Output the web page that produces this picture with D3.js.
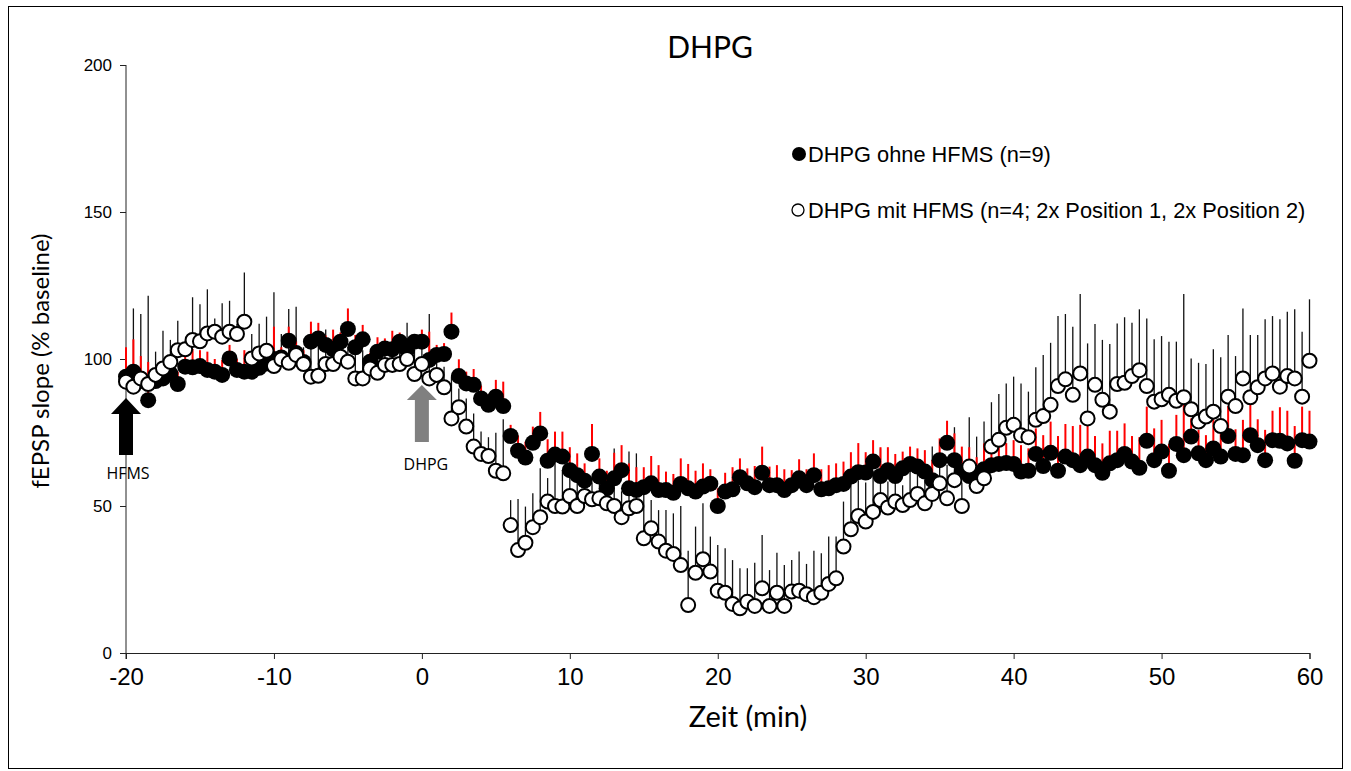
<!DOCTYPE html>
<html>
<head>
<meta charset="utf-8">
<script src="https://cdn.jsdelivr.net/npm/d3@7"></script>
<style>
  body { margin: 0; background: #fff; }
  svg { display: block; }
</style>
</head>
<body>
<svg width="1351" height="771"></svg>
<script>
// sampling grid: one point every 0.5 min
const times = d3.range(-20, 60.001, 0.5);

// DHPG ohne HFMS (filled)
const meanOhne = [
  94, 95.7, 92.5, 86, 92.5, 93.4, 95, 91.5, 97.4, 97.2, 97.6, 96.3, 95.7, 94.6, 100.2, 96.3, 95.7, 95.7, 97, 98.5,
  100, 100.5, 106.2, 102, 99, 105.9, 107, 104.8, 103.3, 105.9, 110.2, 104, 106.7, 99.1, 102.5, 103.6, 103.3, 105.9, 103, 105.9,
  105.9, 99.7, 101.4, 101.7, 109.3, 94.2, 91.7, 91.2, 86.6, 84.4, 87.2, 84, 73.8, 68.8, 66.5, 71.5, 74.7, 65.4, 67.5, 66.8,
  62.2, 60.5, 58.6, 67.7, 60, 56, 59.4, 62.2, 56, 55.4, 56.4, 57.7, 55.4, 55.4, 54.5, 57.5, 56, 54.9, 56.6, 57.6,
  50, 54.9, 55.7, 59.8, 57.7, 56.4, 61.3, 57.1, 57.1, 55.4, 57.1, 59.4, 57.1, 60.5, 55.7, 56, 57.1, 57.5, 60, 61.5,
  61.4, 65.1, 60.2, 62.2, 60.2, 62.8, 64.3, 63.4, 61.7, 58.8, 65.6, 71.5, 65.6, 61.7, 60.2, 60.5, 62.5, 63.9, 64.3, 64.6,
  64.3, 61.7, 62, 67.7, 63.6, 68.1, 62, 66.8, 65.6, 63.9, 66.8, 63.9, 61.3, 64.5, 65.6, 67.7, 65.1, 63, 72.2, 65.6,
  68.5, 62, 71.1, 67.3, 73.6, 67.9, 65.6, 69.6, 66.8, 73.8, 67.7, 67.3, 74.1, 70.7, 65.6, 72.4, 72.2, 71.3, 65.4, 72.4, 71.9
];
const semOhne = [
  10, 11, 8.5, 13, 3.5, 3.6, 3, 4.2, 3.6, 6.2, 5.4, 6.2, 4.3, 5.1, 4.6, 3.7, 7.3, 3.3, 3, 3.5,
  11, 3.5, 4.8, 4, 4, 6.8, 5.3, 3.2, 6.7, 3.1, 7, 4.2, 4.9, 3, 4.9, 3.4, 6.3, 3.1, 3.5, 2.6,
  4.1, 9.6, 3.4, 3.7, 6.5, 5.7, 4, 5.4, 4.4, 3.6, 5.7, 8.3, 3.8, 5.2, 5.4, 5.5, 7.3, 7.3, 7.8, 8.5,
  7.8, 7.4, 5.9, 10.2, 6.2, 6, 8.7, 8.5, 8.5, 7.8, 6.8, 9.3, 8.5, 6.3, 6.4, 8.7, 8.3, 7.1, 7.9, 4.9,
  6, 6.4, 7.5, 6.4, 5.1, 7.2, 8.9, 6.3, 6.8, 7.1, 5.1, 6.5, 5.4, 7.4, 6.8, 7.9, 7.4, 7.6, 8.3, 9.9,
  6.9, 7.3, 9.8, 7.8, 7.5, 5.7, 5.9, 6.2, 7.3, 6.8, 7.4, 7.5, 9.1, 8.5, 9.8, 6.1, 8.8, 7.4, 6.2, 6.8,
  8.1, 9, 7.6, 8.7, 10.5, 10.6, 11.8, 11.1, 11.6, 13.7, 10.4, 9.9, 10, 11.1, 10, 10.4, 8.7, 10.4, 11.6, 10.8,
  10.8, 9.1, 9.9, 17.1, 6.2, 8, 8.5, 9.9, 7.7, 10.2, 8.4, 12, 10.3, 8.8, 10.3, 10, 11.4, 11.1, 11.8, 11.4, 10.5
];

// DHPG mit HFMS (open)
const meanMit = [
  92.3, 90.6, 93.4, 91.5, 94.6, 96.8, 99, 103, 103.3, 106.5, 106, 108.7, 109.3, 107.6, 109.3, 108.5, 112.7, 100.2, 101.9, 102.8,
  97.6, 99.9, 98.7, 101.4, 98.3, 94, 94.3, 98.3, 98.3, 100.8, 99.1, 93.4, 93.4, 96.8, 95.3, 98, 98, 98.3, 100, 94.9,
  98.3, 93.4, 94.6, 90.4, 79.8, 83.6, 77, 70.2, 67.7, 67, 62, 61.1, 43.5, 35, 37.5, 42.8, 46.2, 51.5, 50, 49.8,
  53.4, 50, 53.4, 52.3, 52.6, 50.9, 50, 46.2, 49.2, 50, 39, 42.4, 37.9, 34.8, 33.7, 29.9, 16.3, 27.3, 31.9, 27.7,
  21.2, 20.5, 16.7, 15.2, 17.4, 16, 22, 16, 20.5, 16, 20.9, 21.2, 20, 19, 20.5, 23.5, 25.4, 36.2, 42.1, 46.6,
  44.7, 48, 52, 49.5, 51.5, 50.3, 52, 54.1, 50.9, 54.1, 57.7, 52.6, 58.8, 50, 63.4, 56.8, 59.4, 70.2, 72.5, 76.6,
  77.6, 74.1, 73.4, 79.3, 80.6, 84.4, 90.8, 93.1, 87.8, 95.1, 79.8, 91.2, 86.1, 82.1, 91.5, 91.9, 94.2, 96.2, 90.8, 85.5,
  86.3, 87.8, 85.8, 87, 82.9, 78.7, 80.4, 82.1, 77.2, 87.2, 84, 93.4, 87, 90.4, 93.4, 95.1, 90.6, 94.2, 93.4, 87.2, 99.4
];
const semMit = [
  2, 26.6, 21.9, 30, 7.9, 12.8, 7.5, 10, 3, 14.5, 12.6, 15, 4.5, 11.4, 10.5, 3.5, 16.7, 8.3, 10.1, 11.6,
  25.1, 8.6, 18.3, 16.4, 5.7, 16, 10.7, 11.7, 5.7, 8.2, 4.9, 11.6, 9.6, 4.2, 4.7, 6, 8, 6.2, 12.3, 8.1,
  6.7, 21.9, 5.1, 7, 14.2, 6.4, 9.6, 11.3, 7.6, 6.4, 12.9, 18.4, 8.5, 17.4, 12.3, 11.5, 16.6, 8, 16.2, 12.4,
  8.6, 8, 6.6, 5.7, 7.4, 5.1, 19.6, 8.8, 19.3, 17.9, 15.3, 9.6, 10.7, 13.8, 13.8, 20.1, 18.5, 15.7, 19, 11.9,
  15.5, 15.1, 14.9, 13.6, 11.4, 14.7, 18.1, 12.2, 13.6, 13.9, 10.7, 13.3, 10.3, 15.8, 13.4, 16.1, 14.2, 15.3, 15.6, 12.2,
  13.3, 14, 17.6, 8.8, 13, 6.8, 11.9, 9.3, 7.9, 16.1, 8.3, 11.4, 18, 8, 16.8, 16.8, 19.3, 15.1, 15.6, 15.1,
  16.4, 17.6, 15.5, 17.9, 20.8, 21.1, 23.8, 22.2, 23.2, 27, 25.5, 20.7, 20.4, 23, 20.6, 22.3, 18.1, 20.7, 23, 21.2,
  21.5, 18.1, 20.1, 35.1, 17.3, 20, 17.9, 21.2, 23.4, 21, 17, 23.8, 21.2, 17.8, 20.1, 19.5, 22.9, 21.9, 23.5, 22.1, 20.9
];

const xTicks = [-20, -10, 0, 10, 20, 30, 40, 50, 60];
const yTicks = [0, 50, 100, 150, 200];
const legendLabels = ["DHPG ohne HFMS (n=9)", "DHPG mit HFMS (n=4; 2x Position 1, 2x Position 2)"];

const svg = d3.select("svg");
const W = 1351, H = 771;

svg.append("rect")
  .attr("x", 8.5).attr("y", 6.5)
  .attr("width", W - 17).attr("height", H - 9)
  .attr("fill", "none").attr("stroke", "#000").attr("stroke-width", 1);

const x = d3.scaleLinear().domain([-20, 60]).range([126, 1309.5]);
const y = d3.scaleLinear().domain([0, 200]).range([653, 65]);

const ohne = times.map((t, i) => ({ t: t, v: meanOhne[i], e: semOhne[i] }));
const mit = times.map((t, i) => ({ t: t, v: meanMit[i], e: semMit[i] }));

// axes (plain hyphen for negatives, like the original)
const xAxis = svg.append("g")
  .attr("transform", "translate(0," + y(0) + ")")
  .call(d3.axisBottom(x).tickValues(xTicks).tickSize(6).tickPadding(9).tickFormat(d => String(d)));
xAxis.select(".domain").attr("stroke", "#222");
xAxis.selectAll(".tick line").attr("stroke", "#222");
xAxis.selectAll("text")
  .attr("font-family", "Liberation Sans, Arial, sans-serif")
  .attr("font-size", 24).attr("fill", "#000");

const yAxis = svg.append("g")
  .attr("transform", "translate(" + x(-20) + ",0)")
  .call(d3.axisLeft(y).tickValues(yTicks).tickSize(6).tickPadding(8).tickFormat(d => String(d)));
yAxis.select(".domain").attr("stroke", "#222").attr("d", "M0," + y(200) + "V" + (y(0) + 6));
yAxis.selectAll(".tick line").attr("stroke", "#222");
yAxis.selectAll("text")
  .attr("font-family", "Liberation Sans, Arial, sans-serif")
  .attr("font-size", 17).attr("fill", "#000");

// error bars (upper only)
svg.append("g").selectAll("line").data(mit).join("line")
  .attr("x1", d => x(d.t)).attr("x2", d => x(d.t))
  .attr("y1", d => y(d.v)).attr("y2", d => y(d.v + d.e))
  .attr("stroke", "#111").attr("stroke-width", 1.3);

svg.append("g").selectAll("line").data(ohne).join("line")
  .attr("x1", d => x(d.t)).attr("x2", d => x(d.t))
  .attr("y1", d => y(d.v)).attr("y2", d => y(d.v + d.e))
  .attr("stroke", "#ff0000").attr("stroke-width", 2);

// markers
svg.append("g").selectAll("circle").data(ohne).join("circle")
  .attr("cx", d => x(d.t)).attr("cy", d => y(d.v)).attr("r", 8)
  .attr("fill", "#000");

svg.append("g").selectAll("circle").data(mit).join("circle")
  .attr("cx", d => x(d.t)).attr("cy", d => y(d.v)).attr("r", 7)
  .attr("fill", "#fff").attr("stroke", "#000").attr("stroke-width", 2);

// arrows
function arrow(xc, tip, headH, shaftBottom, col) {
  const hw = 15, sw = 7;
  svg.append("path")
    .attr("d", "M" + xc + "," + tip + " L" + (xc + hw) + "," + (tip + headH) + " L" + (xc + sw) + "," + (tip + headH) +
      " L" + (xc + sw) + "," + shaftBottom + " L" + (xc - sw) + "," + shaftBottom + " L" + (xc - sw) + "," + (tip + headH) +
      " L" + (xc - hw) + "," + (tip + headH) + " Z")
    .attr("fill", col);
}
arrow(x(-20), 398, 16, 455, "#000");
arrow(x(0), 385, 15, 442, "#808080");

svg.append("text").attr("x", x(-20) + 2).attr("y", 479)
  .attr("text-anchor", "middle").attr("font-family", "Open Sans, sans-serif").attr("font-size", 16)
  .text("HFMS");
svg.append("text").attr("x", x(0) + 4).attr("y", 470)
  .attr("text-anchor", "middle").attr("font-family", "Open Sans, sans-serif").attr("font-size", 16)
  .text("DHPG");

// title and axis titles
svg.append("text").attr("x", 710).attr("y", 58)
  .attr("text-anchor", "middle").attr("font-family", "Lato, sans-serif").attr("font-size", 30)
  .text("DHPG");
svg.append("text").attr("x", 748).attr("y", 727)
  .attr("text-anchor", "middle").attr("font-family", "Lato, sans-serif").attr("font-size", 29)
  .text("Zeit (min)");
svg.append("text")
  .attr("transform", "translate(49,361) rotate(-90)")
  .attr("text-anchor", "middle").attr("font-family", "Lato, sans-serif").attr("font-size", 24)
  .text("fEPSP slope (% baseline)");

// legend
const leg = svg.append("g").attr("font-family", "Liberation Sans, Arial, sans-serif").attr("font-size", 21.8);
leg.append("circle").attr("cx", 799).attr("cy", 154).attr("r", 7).attr("fill", "#000");
leg.append("text").attr("x", 808).attr("y", 162).text(legendLabels[0]);
leg.append("circle").attr("cx", 798).attr("cy", 210).attr("r", 6)
  .attr("fill", "#fff").attr("stroke", "#000").attr("stroke-width", 1.3);
leg.append("text").attr("x", 808).attr("y", 218).text(legendLabels[1]);
</script>
</body>
</html>
